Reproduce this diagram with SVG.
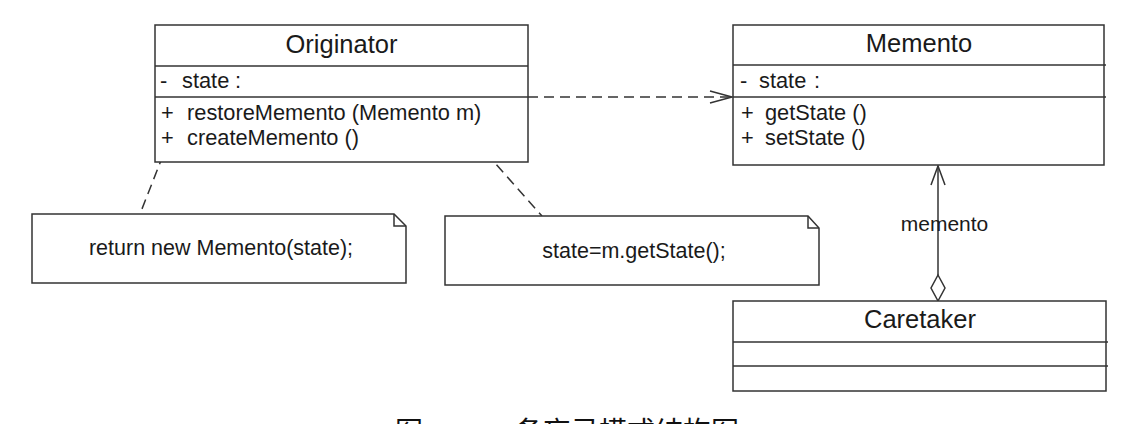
<svg xmlns="http://www.w3.org/2000/svg" width="1144" height="424" viewBox="0 0 1144 424">
<style>
.box{fill:#fff;stroke:#333;stroke-width:1.5}
.div{stroke:#333;stroke-width:1.5}
.t{font-family:"Liberation Sans",Arial,sans-serif;fill:#1a1a1a}
.title{font-size:25.5px;text-anchor:middle}
.m{font-size:21.8px}
.n{font-size:21.5px;text-anchor:middle}
.lab{font-size:21px;text-anchor:middle}
.dash{fill:none;stroke:#333;stroke-width:1.5;stroke-dasharray:10,6}
.line{fill:none;stroke:#333;stroke-width:1.5}
.cap{font-family:"Noto Sans CJK SC","Noto Sans CJK JP",sans-serif;font-size:28px;fill:#111}
</style>
<defs>
<marker id="open" markerWidth="26" markerHeight="16" refX="24" refY="8" orient="auto" markerUnits="userSpaceOnUse">
<path d="M2,2 L24,8 L2,14" fill="none" stroke="#333" stroke-width="1.5"/>
</marker>
</defs>
<rect width="1144" height="424" fill="#fff"/>
<g id="connectors">
<line class="dash" x1="528" y1="97" x2="732" y2="97" marker-end="url(#open)"/>
<line class="dash" x1="169" y1="140" x2="140" y2="214"/>
<line class="dash" x1="454" y1="117" x2="542" y2="216"/>
<line class="line" x1="938" y1="166" x2="938" y2="275"/>
<path class="line" d="M931,185 L938,166 L945,185"/>
<path d="M938,275 L945,288 L938,301 L931,288 Z" fill="#fff" stroke="#333" stroke-width="1.5"/>
<text class="t lab" x="944.5" y="231">memento</text>
</g>
<g id="originator">
<rect class="box" x="155" y="25" width="373" height="137"/>
<line class="div" x1="155" y1="66" x2="528" y2="66"/>
<line class="div" x1="155" y1="97" x2="528" y2="97"/>
<text class="t title" x="341.5" y="53">Originator</text>
<text class="t m" x="160" y="88">-</text>
<text class="t m" x="182" y="88">state</text>
<text class="t m" x="235" y="88">:</text>
<text class="t m" x="161" y="120">+</text>
<text class="t m" x="187" y="120">restoreMemento (Memento m)</text>
<text class="t m" x="161" y="145">+</text>
<text class="t m" x="187" y="145">createMemento ()</text>
</g>
<g id="memento">
<rect class="box" x="733" y="25" width="371" height="140"/>
<line class="div" x1="733" y1="65" x2="1106" y2="65"/>
<line class="div" x1="733" y1="97" x2="1106" y2="97"/>
<text class="t title" x="919" y="52">Memento</text>
<text class="t m" x="740" y="88">-</text>
<text class="t m" x="759" y="88">state</text>
<text class="t m" x="814" y="88">:</text>
<text class="t m" x="741" y="120">+</text>
<text class="t m" x="765" y="120">getState ()</text>
<text class="t m" x="741" y="145">+</text>
<text class="t m" x="765" y="145">setState ()</text>
</g>
<g id="caretaker">
<rect class="box" x="733" y="301" width="373" height="90"/>
<line class="div" x1="733" y1="342" x2="1108" y2="342"/>
<line class="div" x1="733" y1="366" x2="1108" y2="366"/>
<text class="t title" x="920" y="328">Caretaker</text>
</g>
<g id="note1">
<path class="box" d="M32,214 H394 L406,226 V283 H32 Z"/>
<path class="line" d="M394,214 V226 H406"/>
<text class="t n" x="221" y="255">return new Memento(state);</text>
</g>
<g id="note2">
<path class="box" d="M445,216 H808 L819,228 V285 H445 Z"/>
<path class="line" d="M808,216 V228 H819"/>
<text class="t n" x="634" y="258">state=m.getState();</text>
</g>
<g id="caption">
<text class="cap" x="395" y="442">图</text>
<text class="cap" x="515" y="442">备忘录模式结构图</text>
</g>
</svg>
